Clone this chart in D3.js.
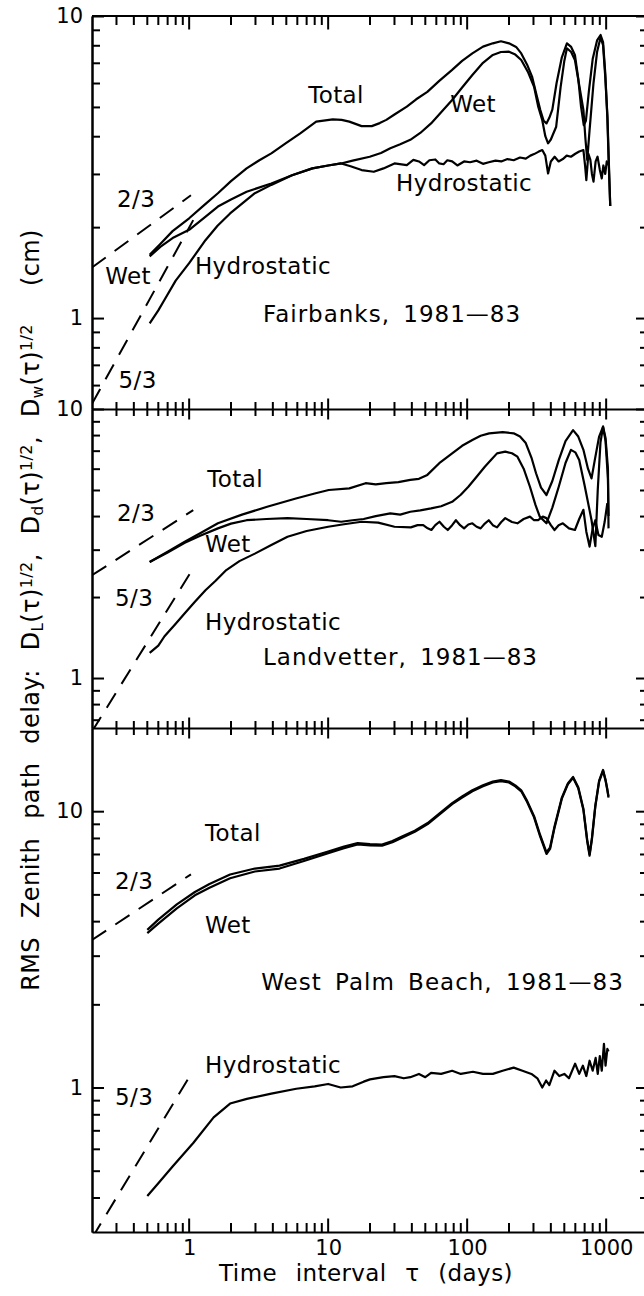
<!DOCTYPE html>
<html>
<head>
<meta charset="utf-8">
<script src="https://cdn.jsdelivr.net/npm/d3@7"></script>
<style>
  body { margin: 0; background: #fff; }
  svg { display: block; font-family: "DejaVu Sans", sans-serif; }
  .axis path, .axis line, .xtick { stroke: #000; stroke-width: 2; }
  .axis text { font-size: 21px; fill: #000; font-family: "DejaVu Sans", sans-serif; }
  .curve { fill: none; stroke: #000; stroke-width: 2.2; stroke-linejoin: round; }
  .ref { fill: none; stroke: #000; stroke-width: 2; stroke-dasharray: 17 11; }
  .lbl { font-size: 23px; fill: #000; white-space: pre; letter-spacing: 0.4px; }
  .site { letter-spacing: 1px; word-spacing: 5px; }
</style>
</head>
<body>
<svg id="chart" width="644" height="1296"></svg>
<script>
// RMS zenith path delay structure functions, three sites (log-log)
// each series: [tau (days), delay (cm)]

const fairbanksTotal = [[0.52,1.62],[0.62,1.76],[0.76,1.94],[1.0,2.14],[1.3,2.38],[1.61,2.59],[2.0,2.84],[2.59,3.13],[3.2,3.33],[3.9,3.51],[5.0,3.8],[6.3,4.09],[8.2,4.47],[10.8,4.55],[12.5,4.53],[14.2,4.47],[17.4,4.32],[20.6,4.32],[23.5,4.42],[26.2,4.53],[30,4.72],[36.8,5.01],[43,5.3],[51.7,5.61],[63,6.1],[77.6,6.62],[92,7.1],[109,7.52],[130,7.92],[153,8.12],[175,8.25],[200,8.12],[225,7.9],[245,7.52],[270,6.9],[293,6.3],[315,5.5],[336,4.88],[355,4.5],[372,4.41],[390,4.6],[410,4.9],[440,6.0],[480,7.3],[522,8.12],[560,7.9],[596,7.43],[630,6.2],[660,5.0],[690,4.35],[715,4.5],[750,5.6],[800,7.2],[860,8.3],[912,8.65],[950,8.2],[985,6.5],[1020,4.6],[1045,3.2],[1070,2.35]];
const fairbanksWet = [[0.52,1.6],[0.62,1.72],[0.76,1.84],[1.0,1.96],[1.3,2.16],[1.61,2.34],[2.0,2.47],[2.59,2.62],[3.9,2.79],[5.5,2.97],[7.7,3.13],[10,3.2],[12.4,3.25],[15,3.32],[19.9,3.42],[24,3.52],[28,3.65],[33,3.76],[39,3.89],[46,4.1],[55,4.41],[65,4.8],[78,5.27],[92,5.8],[109,6.38],[130,7.0],[153,7.43],[175,7.6],[200,7.62],[222,7.45],[245,7.15],[275,6.5],[303,5.83],[325,5.0],[347,4.52],[365,4.0],[382,3.79],[400,3.9],[437,4.3],[470,5.8],[500,7.1],[522,7.82],[560,7.6],[596,7.15],[640,5.9],[686,4.89],[710,3.9],[731,3.34],[760,4.2],[811,6.0],[860,7.6],[912,8.5],[950,8.0],[985,6.3],[1022,4.64],[1045,3.3],[1070,2.35]];
const fairbanksHydro = [[0.52,0.96],[0.6,1.06],[0.665,1.15],[0.8,1.33],[1.0,1.52],[1.31,1.81],[1.6,2.02],[1.97,2.22],[2.5,2.43],[2.97,2.59],[3.9,2.76],[5.5,2.97],[7.7,3.13],[10,3.2],[12.4,3.25],[14.5,3.18],[17.4,3.09],[21.3,3.05],[25,3.13],[30,3.25],[36.8,3.21],[41,3.34],[45,3.3],[49,3.21],[53.5,3.33],[59,3.35],[63,3.25],[67.6,3.23],[72,3.33],[78,3.3],[85,3.2],[95,3.3],[105,3.28],[117,3.32],[130,3.24],[143,3.28],[160,3.32],[176,3.3],[195,3.36],[216,3.33],[240,3.4],[264,3.37],[285,3.45],[303,3.49],[325,3.55],[347,3.6],[365,3.45],[382,3.01],[400,3.3],[426,3.42],[455,3.3],[488,3.36],[520,3.45],[558,3.42],[600,3.5],[640,3.56],[686,3.6],[705,3.2],[720,2.86],[745,3.5],[770,3.34],[790,3.0],[811,2.83],[840,3.3],[867,3.42],[900,3.1],[930,2.9],[955,3.2],[985,3.0],[1010,3.3],[1026,3.2]];

const landvetterTotal = [[0.52,2.7],[0.7,2.95],[0.93,3.21],[1.2,3.45],[1.61,3.76],[2.4,4.05],[3.64,4.33],[5.86,4.65],[8,4.85],[10.1,5.0],[14.2,5.07],[18.6,5.3],[22,5.25],[26.2,5.3],[32,5.35],[39,5.45],[45,5.5],[51.7,5.69],[63,6.29],[78,6.84],[92,7.3],[109,7.67],[125,7.95],[144,8.12],[180,8.2],[216,8.12],[240,7.9],[264,7.47],[290,6.6],[313,5.77],[340,5.1],[372,4.79],[410,5.4],[456,6.46],[510,7.6],[578,8.35],[630,7.9],[686,7.05],[740,6.0],[785,5.52],[830,6.5],[890,7.9],[950,8.6],[990,7.8],[1030,6.0],[1040,3.6]];
const landvetterWet = [[0.52,2.7],[0.7,2.93],[0.93,3.18],[1.2,3.38],[1.61,3.6],[2.0,3.75],[2.59,3.86],[3.6,3.9],[5.1,3.93],[7,3.9],[10,3.86],[12.4,3.81],[15,3.86],[18,3.9],[22,4.0],[28,4.09],[33,4.05],[39,4.15],[46,4.2],[55,4.27],[65,4.35],[78,4.52],[90,4.8],[102,5.14],[117,5.6],[134,6.1],[150,6.5],[164,6.84],[188,6.94],[210,6.85],[230,6.65],[255,6.0],[283,5.14],[310,4.4],[333,3.98],[372,3.76],[410,4.3],[456,5.14],[510,6.3],[558,7.05],[600,6.9],[640,6.46],[700,5.2],[760,4.2],[785,3.86],[836,3.09],[870,5.0],[910,7.5],[950,8.6],[990,7.6],[1030,5.5],[1040,4.0]];
const landvetterHydro = [[0.52,1.24],[0.6,1.32],[0.665,1.43],[0.8,1.59],[0.93,1.74],[1.1,1.92],[1.31,2.12],[1.55,2.3],[1.85,2.52],[2.3,2.72],[2.97,2.9],[3.9,3.12],[5.1,3.35],[7,3.52],[10,3.65],[13,3.73],[17.4,3.81],[22.9,3.78],[30,3.65],[39.3,3.63],[44,3.7],[48.3,3.7],[52,3.6],[55.3,3.55],[59,3.7],[63.2,3.81],[68,3.65],[72.5,3.55],[78,3.7],[83,3.86],[89,3.7],[95,3.6],[102,3.72],[109,3.76],[117,3.65],[125,3.6],[134,3.75],[143,3.86],[153,3.7],[164,3.63],[176,3.8],[188,3.93],[210,3.8],[230,3.76],[255,3.9],[283,3.98],[303,3.86],[324,3.86],[350,3.98],[372,3.93],[400,3.7],[425,3.55],[455,3.7],[488,3.76],[540,3.6],[596,3.55],[640,3.9],[686,4.22],[720,3.5],[760,3.08],[800,3.6],[836,3.86],[880,3.4],[930,3.35],[975,3.8],[1020,4.47]];

const palmTotal = [[0.5,3.72],[0.6,4.05],[0.815,4.6],[1.1,5.1],[1.4,5.45],[1.97,5.9],[2.97,6.2],[4.47,6.35],[6.7,6.72],[10,7.15],[13,7.45],[16.3,7.67],[20,7.6],[24.4,7.57],[29,7.8],[34,8.1],[42,8.5],[52,9.06],[63,9.8],[78,10.7],[92,11.3],[109,11.9],[130,12.4],[153,12.8],[175,12.95],[200,12.8],[222,12.4],[245,11.9],[270,10.9],[303,9.6],[335,8.2],[372,7.1],[395,7.4],[425,8.8],[480,11.2],[530,12.6],[578,13.3],[630,12.2],[686,10.2],[730,7.9],[760,7.0],[790,8.0],[836,10.5],[890,12.9],[950,14.1],[990,13.0],[1020,12.0],[1040,11.3]];
const palmWet = [[0.5,3.62],[0.6,3.92],[0.815,4.45],[1.1,4.96],[1.4,5.28],[1.97,5.72],[2.97,6.05],[4.47,6.2],[6.7,6.6],[10,7.05],[13,7.35],[16.3,7.58],[20,7.52],[24.4,7.5],[29,7.72],[34,8.02],[42,8.42],[52,8.98],[63,9.72],[78,10.6],[92,11.2],[109,11.8],[130,12.3],[153,12.7],[175,12.85],[200,12.7],[222,12.3],[245,11.8],[270,10.8],[303,9.5],[335,8.1],[372,7.0],[395,7.3],[425,8.7],[480,11.1],[530,12.5],[578,13.2],[630,12.1],[686,10.1],[730,7.8],[760,6.9],[790,7.9],[836,10.4],[890,12.8],[950,14.0],[990,12.9],[1020,11.9],[1040,11.2]];
const palmHydro = [[0.5,0.405],[0.6,0.45],[0.76,0.518],[1.07,0.63],[1.5,0.78],[1.97,0.875],[2.6,0.91],[3.9,0.95],[5.9,0.99],[8,1.01],[10,1.03],[12.3,1.0],[15,1.01],[18,1.05],[20,1.07],[25,1.09],[30,1.1],[35,1.08],[39,1.09],[45,1.12],[50,1.09],[55,1.13],[65,1.12],[78,1.15],[90,1.12],[110,1.14],[130,1.12],[153,1.12],[180,1.15],[216,1.18],[250,1.15],[290,1.12],[320,1.08],[347,1.0],[370,1.06],[390,1.02],[425,1.15],[460,1.1],[500,1.12],[540,1.08],[598,1.22],[640,1.12],[680,1.2],[720,1.1],[760,1.25],[800,1.15],[840,1.28],[870,1.12],[900,1.3],[930,1.15],[964,1.44],[990,1.2],[1020,1.38],[1040,1.35]];

// power-law reference lines (endpoints), slopes 2/3 and 5/3 in D(tau)
const fairbanksRef23 = [[0.2,1.47],[1.03,2.55]];
const fairbanksRef53 = [[0.2,0.52],[1.07,2.11]];
const landvetterRef23 = [[0.2,2.41],[1.07,4.21]];
const landvetterRef53 = [[0.2,0.633],[1.03,2.48]];
const palmRef23 = [[0.2,3.42],[1.03,5.91]];
const palmRef53 = [[0.2,0.285],[1.0,1.09]];

// text annotations: [text, tau, value, isSiteTitle]
const fairbanksLabels = [["Total",7.18,5.15],["Wet",75.5,4.81],["Hydrostatic",30.8,2.63],["2/3",0.303,2.33],["Wet",0.249,1.3],["Hydrostatic",1.1,1.4],["Fairbanks, 1981—83",3.4,0.97,true],["5/3",0.31,0.586]];
const landvetterLabels = [["Total",1.35,5.13],["2/3",0.303,3.83],["Wet",1.3,2.94],["5/3",0.293,1.85],["Hydrostatic",1.3,1.51],["Landvetter, 1981—83",3.4,1.12,true]];
const palmLabels = [["Total",1.3,7.8],["2/3",0.293,5.25],["Wet",1.3,3.62],["West Palm Beach, 1981—83",3.3,2.26,true],["Hydrostatic",1.3,1.13],["5/3",0.293,0.862]];

const X_DOMAIN = [0.2, 2000];
const X_MAJOR = [1, 10, 100, 1000];
const X_LABELS = ["1", "10", "100", "1000"];

const panels = [
  { id: "fb", yDomain: [0.5, 10], top: 16, bottom: 409, series: [fairbanksTotal, fairbanksWet, fairbanksHydro], refs: [fairbanksRef23, fairbanksRef53], labels: fairbanksLabels },
  { id: "lv", yDomain: [0.652, 10], top: 409, bottom: 728, series: [landvetterTotal, landvetterWet, landvetterHydro], refs: [landvetterRef23, landvetterRef53], labels: landvetterLabels },
  { id: "wp", yDomain: [0.3, 20], top: 728, bottom: 1232, series: [palmTotal, palmWet, palmHydro], refs: [palmRef23, palmRef53], labels: palmLabels },
];

const svg = d3.select("#chart");
const left = 92, right = 648;
const x = d3.scaleLog().domain(X_DOMAIN).range([left, right]);

// 1..9 x 10^n inside a domain
function logTicks(lo, hi) {
  const out = [];
  for (let e = Math.floor(Math.log10(lo)); e <= Math.ceil(Math.log10(hi)); e++) {
    for (let k = 1; k <= 9; k++) {
      const v = k * Math.pow(10, e);
      if (v > lo * 1.0001 && v < hi * 0.9999) out.push(v);
    }
  }
  return out;
}
const isDecade = (v) => Math.abs(Math.log10(v) - Math.round(Math.log10(v))) < 1e-6;

const xTickVals = logTicks(X_DOMAIN[0], X_DOMAIN[1]).filter((v) => v > 0.25);

// vertical x ticks at a horizontal edge; up/down lengths for minor (major x1.5)
function xTicks(yPos, up, down) {
  svg.append("g").selectAll("line").data(xTickVals).join("line")
    .attr("class", "xtick")
    .attr("x1", (d) => x(d)).attr("x2", (d) => x(d))
    .attr("y1", (d) => yPos - (isDecade(d) ? up * 1.5 : up))
    .attr("y2", (d) => yPos + (isDecade(d) ? down * 1.5 : down));
}

const line = (y) => d3.line().x((d) => x(d[0])).y((d) => y(d[1]));

panels.forEach((p, i) => {
  const y = d3.scaleLog().domain(p.yDomain).range([p.bottom, p.top]);
  const g = svg.append("g").attr("class", "panel " + p.id);

  g.append("clipPath").attr("id", "clip-" + p.id)
    .append("rect").attr("x", left).attr("y", p.top)
    .attr("width", right - left).attr("height", p.bottom - p.top);

  const plot = g.append("g").attr("clip-path", `url(#clip-${p.id})`);
  plot.selectAll("path.curve").data(p.series).join("path")
    .attr("class", "curve").attr("d", (s) => line(y)(s));
  plot.selectAll("path.ref").data(p.refs).join("path")
    .attr("class", "ref").attr("d", (s) => line(y)(s));

  // y axes: left labelled, right mirrored
  const yAll = logTicks(p.yDomain[0], p.yDomain[1]);
  const yMajor = yAll.filter(isDecade).concat(isDecade(p.yDomain[1]) ? [p.yDomain[1]] : []);
  const yMinor = yAll.filter((v) => !isDecade(v));

  g.append("g").attr("class", "axis").attr("transform", `translate(${left},0)`)
    .call(d3.axisLeft(y).tickValues(yMinor).tickSizeInner(-8).tickSizeOuter(0).tickFormat(""));
  g.append("g").attr("class", "axis").attr("transform", `translate(${left},0)`)
    .call(d3.axisLeft(y).tickValues(yMajor).tickSizeInner(-12).tickSizeOuter(0).tickPadding(9).tickFormat(d3.format("d")));
  g.append("g").attr("class", "axis").attr("transform", `translate(${right},0)`)
    .call(d3.axisRight(y).tickValues(yMinor).tickSizeInner(-8).tickSizeOuter(0).tickFormat(""));
  g.append("g").attr("class", "axis").attr("transform", `translate(${right},0)`)
    .call(d3.axisRight(y).tickValues(yMajor).tickSizeInner(-12).tickSizeOuter(0).tickFormat(""));

  if (i === 0) {
    svg.append("line").attr("class", "xtick")
      .attr("x1", left).attr("x2", right).attr("y1", p.top).attr("y2", p.top);
    xTicks(p.top, 0, 9);
  }
  if (i < panels.length - 1) {
    g.append("g").attr("class", "axis").attr("transform", `translate(0,${p.bottom})`)
      .call(d3.axisBottom(x).tickValues([]).tickSizeOuter(0));
    xTicks(p.bottom, 7, 7);
  } else {
    g.append("g").attr("class", "axis").attr("transform", `translate(0,${p.bottom})`)
      .call(d3.axisBottom(x).tickValues(X_MAJOR).tickSize(0).tickPadding(8)
        .tickFormat((d, j) => X_LABELS[j]));
    xTicks(p.bottom, 9, 0);
  }

  g.selectAll("text.lbl").data(p.labels).join("text")
    .attr("class", (d) => (d[3] ? "lbl site" : "lbl"))
    .attr("x", (d) => x(d[1]))
    .attr("y", (d) => y(d[2]))
    .text((d) => d[0]);
});

// x title
svg.append("text").attr("class", "lbl")
  .attr("x", 366).attr("y", 1281).attr("text-anchor", "middle")
  .style("font-size", "23px").style("word-spacing", "11px")
  .text("Time interval τ (days)");

// y title with sub/superscripts
const yt = svg.append("text").attr("class", "lbl")
  .attr("transform", "translate(39,610) rotate(-90)")
  .attr("text-anchor", "middle").style("font-size", "24px").style("word-spacing", "11px");
yt.append("tspan").text("RMS Zenith path delay: D");
[["L", ", D"], ["d", ", D"], ["w", "  (cm)"]].forEach(([sub, after]) => {
  yt.append("tspan").attr("baseline-shift", "-25%").style("font-size", "15px").text(sub);
  yt.append("tspan").text("(τ)");
  yt.append("tspan").attr("baseline-shift", "45%").style("font-size", "16px").text("1/2");
  yt.append("tspan").text(after);
});
</script>
</body>
</html>
